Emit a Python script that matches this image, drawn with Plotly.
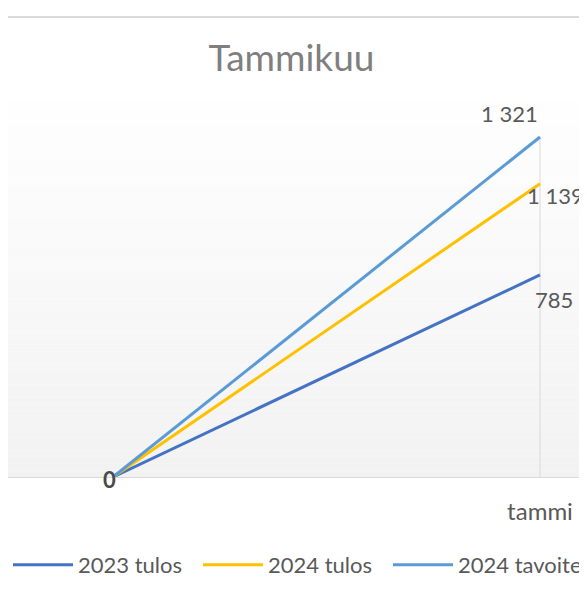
import plotly.graph_objects as go

categories = ["", "tammi"]
series_names = ["2023 tulos", "2024 tulos", "2024 tavoite"]
values_2023 = [0, 785]
values_2024 = [0, 1139]
target_2024 = [0, 1321]
label_texts = ["0", "785", "1 139", "1 321"]

colors = ["#4472c4", "#ffc000", "#5b9bd5"]
# page body has an 8px margin, so the figure is drawn 8px smaller
W, H = 579, 589
top_m, bot_m = 72, 120
ph = H - top_m - bot_m
font = "Lato"
txt = "#595959"

fig = go.Figure()

# drop line at the last category up to the highest value
fig.add_trace(go.Scatter(x=[categories[1], categories[1]],
                         y=[0, max(target_2024[1], values_2024[1], values_2023[1])],
                         mode="lines", line=dict(color="#d9d9d9", width=1),
                         showlegend=False, hoverinfo="skip"))

legend_widths = [115, 115, 128]
for name, vals, col, lw in zip(series_names, [values_2023, values_2024, target_2024], colors, legend_widths):
    fig.add_trace(go.Scatter(x=categories, y=vals, name=name, mode="lines",
                             line=dict(color=col, width=3), legendwidth=lw))

# gradient plot background
n = 60
for i in range(n):
    t = i / (n - 1)
    c = int(round(255 - (255 - 242) * t))
    fig.add_shape(type="rect", xref="paper", yref="paper", x0=0, x1=1,
                  y0=1 - (i + 1) / n, y1=1 - i / n, line_width=0,
                  fillcolor=f"rgb({c},{c},{c})", layer="below")

# top border of chart
yb = (H - bot_m - 9) / ph
fig.add_shape(type="line", xref="paper", yref="paper", x0=-0.01, x1=1.01,
              y0=yb, y1=yb, line=dict(color="#d9d9d9", width=2))

lab_font = dict(family=font, size=22, color=txt)
fig.add_annotation(x=0, y=values_2023[0], text="<b>" + label_texts[0] + "</b>", showarrow=False,
                   font=dict(family=font, size=22, color="#4a4a4a"), xshift=-4, yshift=-2)
fig.add_annotation(x=1, y=values_2023[1], text=label_texts[1], showarrow=False,
                   font=lab_font, xanchor="left", xshift=-7, yshift=-25)
fig.add_annotation(x=1, y=values_2024[1], text=label_texts[2], showarrow=False,
                   font=lab_font, xanchor="left", xshift=-15, yshift=-12)
fig.add_annotation(x=1, y=target_2024[1], text=label_texts[3], showarrow=False,
                   font=lab_font, xshift=-31, yshift=24)

fig.update_layout(
    width=W, height=H,
    margin=dict(l=0, r=0, t=top_m, b=bot_m),
    paper_bgcolor="white", plot_bgcolor="white",
    title=dict(text="Tammikuu", x=283.5 / W, xanchor="center", y=1 - 50 / H, yanchor="middle",
               font=dict(family=font, size=37, color="#7f7f7f")),
    xaxis=dict(type="category", categoryarray=categories, range=[-105 / 427, 1 + 47 / 427],
               showgrid=False, zeroline=False, showline=False, ticks="",
               tickvals=[categories[1]], ticktext=[categories[1]], ticklabelstandoff=18,
               tickfont=dict(family=font, size=24, color=txt)),
    yaxis=dict(range=[0, ph / ((477 - 137) / 1321)], showgrid=False, zeroline=True,
               zerolinecolor="#d9d9d9", zerolinewidth=1, showticklabels=False, showline=False),
    legend=dict(orientation="h", x=0, xanchor="left", y=(469 - 557) / ph, yanchor="middle",
                font=dict(family=font, size=22, color=txt), itemwidth=60,
                entrywidthmode="pixels", bgcolor="rgba(0,0,0,0)"),
    showlegend=True,
)

fig.write_html("out.html")
